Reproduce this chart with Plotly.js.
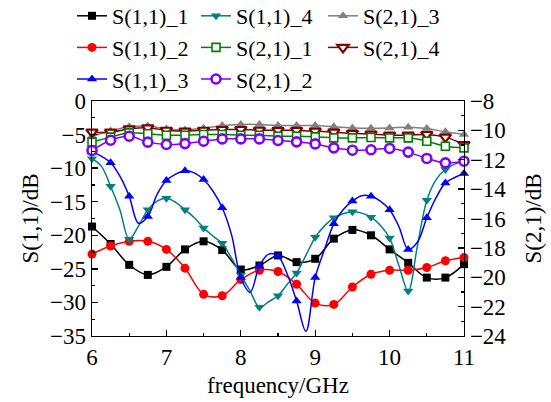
<!DOCTYPE html>
<html><head><meta charset="utf-8">
<script src="https://cdn.plot.ly/plotly-3.0.1.min.js"></script>
<style>html,body{margin:0;padding:0;background:#fff}#chart{width:551px;height:402px}</style>
</head><body><div id="chart"></div>
<script>
// ---- data ----
const freq = [6,6.25,6.5,6.75,7,7.25,7.5,7.75,8,8.25,8.5,8.75,9,9.25,9.5,9.75,10,10.25,10.5,10.75,11];
const freqFine = [6,6.125,6.25,6.375,6.5,6.625,6.75,6.875,7,7.125,7.25,7.375,7.5,7.625,7.75,7.875,8,8.125,8.25,8.375,8.5,8.625,8.75,8.875,9,9.125,9.25,9.375,9.5,9.625,9.75,9.875,10,10.125,10.25,10.375,10.5,10.625,10.75,10.875,11];
const s11_1 = [-18.7,-21.3,-24.4,-25.9,-24.7,-22.1,-20.9,-22.2,-25.1,-24.5,-23.0,-24.0,-23.5,-20.5,-19.2,-20.0,-22.1,-24.1,-26.3,-26.3,-24.3];
const s11_2 = [-22.8,-21.6,-20.9,-20.9,-22.1,-24.9,-28.8,-29.0,-26.6,-25.2,-25.4,-27.3,-30.1,-30.3,-27.7,-25.8,-25.2,-25.2,-24.8,-23.8,-23.3];
const s11_3 = [-7.6,-8.2,-9.2,-11.2,-14.2,-18.2,-17.2,-13.9,-11.85,-10.9,-10.4,-10.7,-11.7,-13.4,-15.9,-19.9,-26.3,-28.5,-24.6,-22.8,-23.1,-25.8,-29.8,-34.3,-26.3,-22.1,-18.3,-16.2,-14.9,-14.1,-14.2,-14.9,-16.2,-18.7,-22.1,-21.0,-17.4,-14.4,-12.2,-11.4,-10.8];
const s11_4 = [-8.6,-9.7,-12.7,-16.2,-20.6,-18.6,-16.2,-14.9,-14.5,-15.1,-16.2,-17.4,-18.9,-20.1,-21.2,-23.4,-25.9,-28.3,-30.7,-29.9,-29.0,-27.3,-25.6,-23.0,-20.3,-18.6,-17.4,-16.8,-16.5,-16.7,-17.3,-18.5,-20.4,-24.5,-28.3,-21.5,-14.8,-11.7,-10.2,-9.4,-9.0];
const s21_1 = [-10.8,-10.46,-10.17,-10.23,-10.33,-10.33,-10.28,-10.28,-10.33,-10.33,-10.4,-10.4,-10.44,-10.51,-10.51,-10.48,-10.51,-10.51,-10.74,-11.08,-11.19];
const s21_2 = [-11.37,-10.67,-10.4,-10.8,-10.96,-10.9,-10.74,-10.58,-10.58,-10.58,-10.69,-10.78,-10.92,-11.19,-11.35,-11.32,-11.23,-11.48,-11.91,-12.21,-12.1];
const s21_3 = [-10.4,-10.05,-9.76,-9.71,-9.9,-9.97,-9.85,-9.67,-9.6,-9.6,-9.67,-9.67,-9.67,-9.76,-9.83,-9.85,-9.83,-9.78,-9.87,-10.1,-10.28];
const s21_4 = [-10.12,-10.12,-9.9,-9.83,-9.99,-10.05,-9.99,-9.94,-9.94,-9.99,-10.0,-10.0,-10.05,-10.12,-10.2,-10.25,-10.33,-10.33,-10.28,-10.46,-10.96];
const names = ['S(1,1)_1','S(1,1)_2','S(1,1)_3','S(1,1)_4','S(2,1)_1','S(2,1)_2','S(2,1)_3','S(2,1)_4'];

// ---- styling ----
const FONT = 'Liberation Serif';
const every2 = a => a.filter((_, i) => i % 2 === 0);

function full(name, x, y, color, mk, yaxis, legend) {
  return {type:'scatter', mode:'lines+markers', name:name, x:x, y:y, yaxis:yaxis, legend:legend,
    cliponaxis:false,
    line:{color:color, width:1.5, shape:'spline', smoothing:1},
    marker:mk};
}
function lineOnly(x, y, color, yaxis) {
  return {type:'scatter', mode:'lines', x:x, y:y, yaxis:yaxis, showlegend:false, hoverinfo:'skip',
    line:{color:color, width:1.5, shape:'spline', smoothing:1}};
}
function markOnly(x, y, mk, yaxis) {
  return {type:'scatter', mode:'markers', x:x, y:y, yaxis:yaxis, showlegend:false, cliponaxis:false, marker:mk};
}
function legendOnly(name, color, mk, legend) {
  return {type:'scatter', mode:'lines+markers', name:name, x:[null], y:[null], legend:legend,
    line:{color:color, width:1.5}, marker:mk};
}

const mk1 = {symbol:'square', size:8, color:'#000000'};
const mk2 = {symbol:'circle', size:9, color:'#FF0000'};
const mk3 = {symbol:'triangle-up', size:9, color:'#0000FF'};
const mk4 = {symbol:'triangle-down', size:9, color:'#008080'};
const mk5 = {symbol:'square', size:8, color:'#FFFFFF', line:{color:'#008000', width:1.6}};
const mk6 = {symbol:'circle', size:9, color:'#FFFFFF', line:{color:'#8000FF', width:2.6}};
const mk7 = {symbol:'triangle-up', size:9, color:'#808080'};
const mk8 = {symbol:'triangle-down', size:10, color:'#FFFFFF', line:{color:'#800000', width:2.2}};

const data = [
  full(names[6], freq, s21_3, '#808080', mk7, 'y2', 'legend3'),
  full(names[7], freq, s21_4, '#800000', mk8, 'y2', 'legend3'),
  full(names[4], freq, s21_1, '#008000', mk5, 'y2', 'legend2'),
  full(names[5], freq, s21_2, '#8000FF', mk6, 'y2', 'legend2'),
  full(names[0], freq, s11_1, '#000000', mk1, 'y', 'legend'),
  full(names[1], freq, s11_2, '#FF0000', mk2, 'y', 'legend'),
  lineOnly(freqFine, s11_4, '#008080', 'y'),
  markOnly(every2(freqFine), every2(s11_4), mk4, 'y'),
  lineOnly(freqFine, s11_3, '#0000FF', 'y'),
  markOnly(every2(freqFine), every2(s11_3), mk3, 'y'),
  legendOnly(names[2], '#0000FF', mk3, 'legend'),
  legendOnly(names[3], '#008080', mk4, 'legend2')
];
data.forEach(t => {
  const i = names.indexOf(t.name);
  if (i >= 0) t.legendrank = i + 1;
});

const axCommon = {
  type:'linear', showgrid:false, zeroline:false, showline:true, linecolor:'#000', linewidth:1.3,
  ticks:'inside', ticklen:6, tickwidth:1.3, tickcolor:'#000',
  tickfont:{family:FONT, size:23, color:'#000'}, automargin:false
};
const legCommon = {xref:'paper', yref:'paper', xanchor:'left', yanchor:'top',
  orientation:'v', bgcolor:'rgba(0,0,0,0)', borderwidth:0,
  font:{family:FONT, size:22, color:'#000'}, itemwidth:30, traceorder:'normal'};
// plot area: left 92, width 372, top 101, height 235
const PX = px => (px - 92) / 372;
const PY = py => (336 - py) / 235;

const layout = {
  width:551, height:402,
  margin:{l:92, r:87, t:101, b:66, pad:0, autoexpand:false},
  paper_bgcolor:'#fff', plot_bgcolor:'#fff',
  font:{family:FONT, size:23, color:'#000'},
  showlegend:true,
  xaxis:Object.assign({}, axCommon, {
    range:[6,11], tick0:6, dtick:1, mirror:true,
    minor:{dtick:0.5, ticks:'inside', ticklen:3, tickwidth:1.3, tickcolor:'#000', showgrid:false},
    title:{text:'frequency/GHz', font:{family:FONT, size:23}, standoff:8}
  }),
  yaxis:Object.assign({}, axCommon, {
    range:[-35,0], tick0:0, dtick:5,
    minor:{dtick:2.5, ticks:'inside', ticklen:3, tickwidth:1.3, tickcolor:'#000', showgrid:false},
    title:{text:'S(1,1)/dB', font:{family:FONT, size:23}, standoff:5}
  }),
  yaxis2:Object.assign({}, axCommon, {
    overlaying:'y', side:'right', range:[-24,-8], tick0:-8, dtick:2,
    minor:{dtick:1, ticks:'inside', ticklen:3, tickwidth:1.3, tickcolor:'#000', showgrid:false},
    title:{text:'S(2,1)/dB', font:{family:FONT, size:23}, standoff:19}
  }),
  legend:Object.assign({}, legCommon, {x:PX(72), y:PY(-5)}),
  legend2:Object.assign({}, legCommon, {x:PX(196), y:PY(-5)}),
  legend3:Object.assign({}, legCommon, {x:PX(323), y:PY(-5)})
};

Plotly.newPlot('chart', data, layout, {displayModeBar:false, staticPlot:true});
</script>
</body></html>
